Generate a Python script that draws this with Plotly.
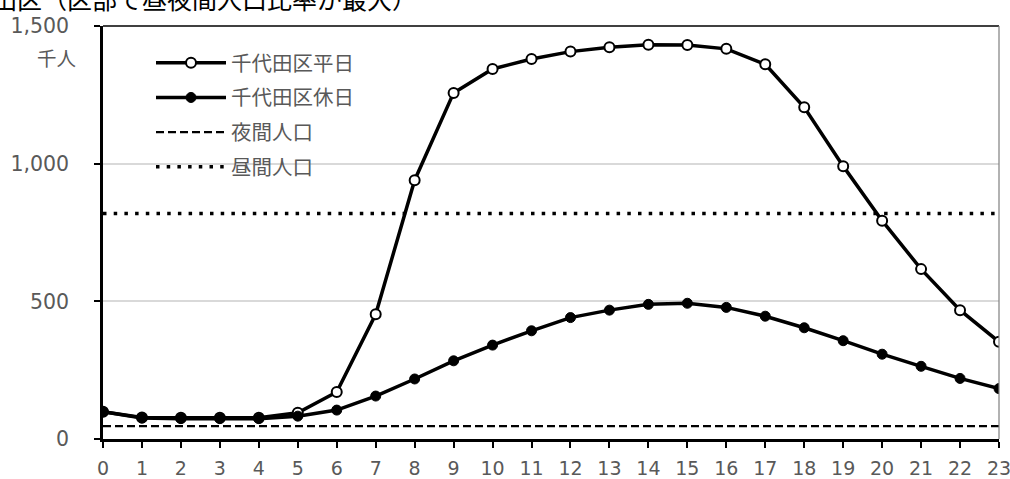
import plotly.graph_objects as go

hours = list(range(24))
hour_labels = [str(h) for h in hours]
weekday = [99, 78, 77, 77, 77, 95, 171, 453, 940, 1257, 1344, 1380, 1407, 1423, 1432, 1431, 1417, 1361, 1205, 991, 793, 617, 468, 353]
holiday = [99, 76, 74, 74, 74, 83, 105, 156, 218, 284, 341, 393, 441, 468, 489, 493, 478, 446, 404, 357, 308, 264, 220, 183]
night_pop = 47
day_pop = 819
names = ["千代田区平日", "千代田区休日", "夜間人口", "昼間人口"]
y_ticks = [0, 500, 1000, 1500]
y_tick_text = ["0", "500", "1,000", "1,500"]
title_text = "千代田区（区部で昼夜間人口比率が最大）"
unit_text = "千人"

GRAY = "#595959"
FONT = "DejaVu Sans, Noto Sans CJK JP"

fig = go.Figure()
fig.add_trace(go.Scatter(
    x=hours, y=weekday, name=names[0], mode="lines+markers", legendgroup="a",
    line=dict(color="black", width=3.5),
    marker=dict(symbol="circle", size=10, color="white", line=dict(color="black", width=2)),
))
fig.add_trace(go.Scatter(
    x=hours, y=holiday, name=names[1], mode="lines+markers", legendgroup="b",
    line=dict(color="black", width=3.5),
    marker=dict(symbol="circle", size=10, color="black", line=dict(color="black", width=1)),
))
fig.add_trace(go.Scatter(
    x=hours, y=[night_pop] * len(hours), name=names[2], mode="lines", legendgroup="c",
    line=dict(color="black", width=2.2, dash="8px,4px"),
))
fig.add_trace(go.Scatter(
    x=hours, y=[day_pop] * len(hours), name=names[3], mode="lines", legendgroup="d",
    line=dict(color="black", width=3.5, dash="3.5px,7.2px"),
))

L, R, T, B = 103, 11, 26, 40
W, H = 1010, 479
pw, ph = W - L - R, H - T - B

fig.update_layout(
    width=W, height=H,
    margin=dict(l=L, r=R, t=T, b=B, pad=0, autoexpand=False),
    paper_bgcolor="white", plot_bgcolor="white",
    font=dict(family=FONT, size=20, color=GRAY),
    showlegend=True,
    legend=dict(
        x=(151 - L) / pw, y=1 - (43 - T) / ph, xanchor="left", yanchor="top",
        bgcolor="rgba(0,0,0,0)", borderwidth=0,
        font=dict(family="Noto Sans CJK JP", size=20.5, color=GRAY),
        itemwidth=70, tracegroupgap=5,
    ),
    xaxis=dict(
        range=[0, 23], tickmode="array", tickvals=hours, ticktext=hour_labels,
        showline=True, linecolor="black", linewidth=2.5,
        ticks="outside", ticklen=6, tickwidth=2, tickcolor="black",
        showgrid=False, zeroline=False, automargin=False,
        tickfont=dict(family="DejaVu Sans", size=19, color=GRAY),
        ticklabelstandoff=4, ticklabeloverflow="allow",
    ),
    yaxis=dict(
        range=[0, 1500], tickmode="array", tickvals=y_ticks, ticktext=y_tick_text,
        showline=True, linecolor="black", linewidth=2.5,
        ticks="outside", ticklen=6, tickwidth=2, tickcolor="black",
        showgrid=True, gridcolor="#d9d9d9", gridwidth=1.5, zeroline=False, automargin=False,
        tickfont=dict(family="DejaVu Sans", size=20.5, color=GRAY),
        ticklabelstandoff=21, ticklabeloverflow="allow",
    ),
    shapes=[
        dict(type="line", xref="paper", yref="paper", x0=0, x1=1, y0=1, y1=1,
             line=dict(color="black", width=1.5)),
        dict(type="line", xref="paper", yref="paper", x0=1, x1=1, y0=0, y1=1,
             line=dict(color="#7f7f7f", width=1.2)),
    ],
    annotations=[
        dict(text=unit_text, xref="paper", yref="paper", x=(78 - L) / pw, y=(439 - 57) / ph,
             xanchor="right", yanchor="middle", showarrow=False,
             font=dict(family="Noto Sans CJK JP", size=19.5, color=GRAY)),
        dict(text=title_text, xref="paper", yref="paper", x=(419 - L) / pw, y=(439 + 2) / ph,
             xanchor="right", yanchor="middle", showarrow=False,
             font=dict(family="Noto Sans CJK JP", size=25, color="black")),
    ],
)

fig.write_html(
    "out.html",
    config={"displayModeBar": False},
    post_script="document.body.style.margin='0';document.body.style.overflow='hidden';",
)
